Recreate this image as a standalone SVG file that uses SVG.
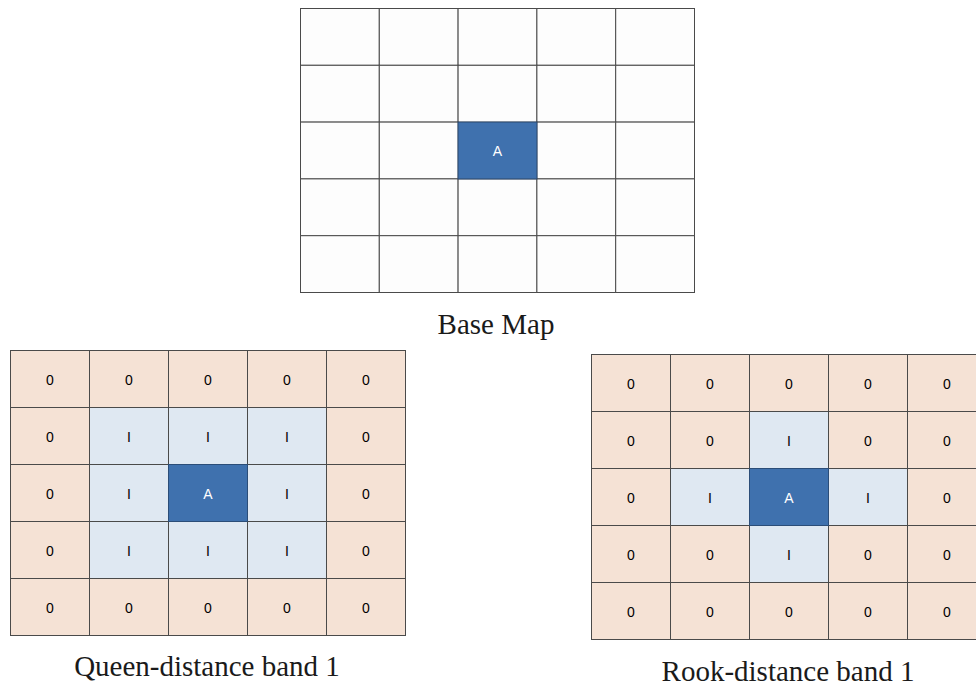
<svg xmlns="http://www.w3.org/2000/svg" width="976" height="688" viewBox="0 0 976 688">
<style>
.w{fill:#fdfdfd;stroke:#4a4a4a;stroke-width:1}
.p{fill:#f5e2d5;stroke:#4a4a4a;stroke-width:1}
.b{fill:#dfe8f2;stroke:#4a4a4a;stroke-width:1}
.d{fill:#3f71ae;stroke:#2b4d78;stroke-width:1}
.t text{font-family:"Liberation Sans",Arial,sans-serif;font-size:14px;fill:#000000;text-anchor:middle}
.ta{font-family:"Liberation Sans",Arial,sans-serif;font-size:14px;fill:#ffffff;text-anchor:middle}
.cap{font-family:"Liberation Serif","Times New Roman",serif;font-size:29px;fill:#1a1a1a;text-anchor:middle}
</style>
<rect width="976" height="688" fill="#ffffff"/>

<g id="base-map" transform="translate(300.5,8.5)">
<rect class="w" x="0" y="0" width="78.8" height="56.8"/><rect class="w" x="78.8" y="0" width="78.8" height="56.8"/><rect class="w" x="157.6" y="0" width="78.8" height="56.8"/><rect class="w" x="236.4" y="0" width="78.8" height="56.8"/><rect class="w" x="315.2" y="0" width="78.8" height="56.8"/>
<rect class="w" x="0" y="56.8" width="78.8" height="56.8"/><rect class="w" x="78.8" y="56.8" width="78.8" height="56.8"/><rect class="w" x="157.6" y="56.8" width="78.8" height="56.8"/><rect class="w" x="236.4" y="56.8" width="78.8" height="56.8"/><rect class="w" x="315.2" y="56.8" width="78.8" height="56.8"/>
<rect class="w" x="0" y="113.6" width="78.8" height="56.8"/><rect class="w" x="78.8" y="113.6" width="78.8" height="56.8"/><rect class="w" x="236.4" y="113.6" width="78.8" height="56.8"/><rect class="w" x="315.2" y="113.6" width="78.8" height="56.8"/>
<rect class="w" x="0" y="170.4" width="78.8" height="56.8"/><rect class="w" x="78.8" y="170.4" width="78.8" height="56.8"/><rect class="w" x="157.6" y="170.4" width="78.8" height="56.8"/><rect class="w" x="236.4" y="170.4" width="78.8" height="56.8"/><rect class="w" x="315.2" y="170.4" width="78.8" height="56.8"/>
<rect class="w" x="0" y="227.2" width="78.8" height="56.8"/><rect class="w" x="78.8" y="227.2" width="78.8" height="56.8"/><rect class="w" x="157.6" y="227.2" width="78.8" height="56.8"/><rect class="w" x="236.4" y="227.2" width="78.8" height="56.8"/><rect class="w" x="315.2" y="227.2" width="78.8" height="56.8"/>
<rect class="d" x="157.6" y="113.6" width="78.8" height="56.8"/>
<text class="ta" x="197" y="147.5">A</text>
</g>
<text class="cap" x="496" y="334">Base Map</text>

<g id="queen" transform="translate(10.5,350.5)">
<g class="p">
<rect x="0" y="0" width="79" height="57"/><rect x="79" y="0" width="79" height="57"/><rect x="158" y="0" width="79" height="57"/><rect x="237" y="0" width="79" height="57"/><rect x="316" y="0" width="79" height="57"/>
<rect x="0" y="57" width="79" height="57"/><rect x="316" y="57" width="79" height="57"/>
<rect x="0" y="114" width="79" height="57"/><rect x="316" y="114" width="79" height="57"/>
<rect x="0" y="171" width="79" height="57"/><rect x="316" y="171" width="79" height="57"/>
<rect x="0" y="228" width="79" height="57"/><rect x="79" y="228" width="79" height="57"/><rect x="158" y="228" width="79" height="57"/><rect x="237" y="228" width="79" height="57"/><rect x="316" y="228" width="79" height="57"/>
</g>
<g class="b">
<rect x="79" y="57" width="79" height="57"/><rect x="158" y="57" width="79" height="57"/><rect x="237" y="57" width="79" height="57"/>
<rect x="79" y="114" width="79" height="57"/><rect x="237" y="114" width="79" height="57"/>
<rect x="79" y="171" width="79" height="57"/><rect x="158" y="171" width="79" height="57"/><rect x="237" y="171" width="79" height="57"/>
</g>
<rect class="d" x="158" y="114" width="79" height="57"/>
<g class="t">
<text x="39.5" y="34">0</text><text x="118.5" y="34">0</text><text x="197.5" y="34">0</text><text x="276.5" y="34">0</text><text x="355.5" y="34">0</text>
<text x="39.5" y="91">0</text><text x="118.5" y="91">I</text><text x="197.5" y="91">I</text><text x="276.5" y="91">I</text><text x="355.5" y="91">0</text>
<text x="39.5" y="148">0</text><text x="118.5" y="148">I</text><text x="276.5" y="148">I</text><text x="355.5" y="148">0</text>
<text x="39.5" y="205">0</text><text x="118.5" y="205">I</text><text x="197.5" y="205">I</text><text x="276.5" y="205">I</text><text x="355.5" y="205">0</text>
<text x="39.5" y="262">0</text><text x="118.5" y="262">0</text><text x="197.5" y="262">0</text><text x="276.5" y="262">0</text><text x="355.5" y="262">0</text>
</g>
<text class="ta" x="197.5" y="148">A</text>
</g>
<text class="cap" x="207" y="676">Queen-distance band 1</text>

<g id="rook" transform="translate(591.5,354.5)">
<g class="p">
<rect x="0" y="0" width="79" height="57"/><rect x="79" y="0" width="79" height="57"/><rect x="158" y="0" width="79" height="57"/><rect x="237" y="0" width="79" height="57"/><rect x="316" y="0" width="79" height="57"/>
<rect x="0" y="57" width="79" height="57"/><rect x="79" y="57" width="79" height="57"/><rect x="237" y="57" width="79" height="57"/><rect x="316" y="57" width="79" height="57"/>
<rect x="0" y="114" width="79" height="57"/><rect x="316" y="114" width="79" height="57"/>
<rect x="0" y="171" width="79" height="57"/><rect x="79" y="171" width="79" height="57"/><rect x="237" y="171" width="79" height="57"/><rect x="316" y="171" width="79" height="57"/>
<rect x="0" y="228" width="79" height="57"/><rect x="79" y="228" width="79" height="57"/><rect x="158" y="228" width="79" height="57"/><rect x="237" y="228" width="79" height="57"/><rect x="316" y="228" width="79" height="57"/>
</g>
<g class="b">
<rect x="158" y="57" width="79" height="57"/>
<rect x="79" y="114" width="79" height="57"/><rect x="237" y="114" width="79" height="57"/>
<rect x="158" y="171" width="79" height="57"/>
</g>
<rect class="d" x="158" y="114" width="79" height="57"/>
<g class="t">
<text x="39.5" y="34">0</text><text x="118.5" y="34">0</text><text x="197.5" y="34">0</text><text x="276.5" y="34">0</text><text x="355.5" y="34">0</text>
<text x="39.5" y="91">0</text><text x="118.5" y="91">0</text><text x="197.5" y="91">I</text><text x="276.5" y="91">0</text><text x="355.5" y="91">0</text>
<text x="39.5" y="148">0</text><text x="118.5" y="148">I</text><text x="276.5" y="148">I</text><text x="355.5" y="148">0</text>
<text x="39.5" y="205">0</text><text x="118.5" y="205">0</text><text x="197.5" y="205">I</text><text x="276.5" y="205">0</text><text x="355.5" y="205">0</text>
<text x="39.5" y="262">0</text><text x="118.5" y="262">0</text><text x="197.5" y="262">0</text><text x="276.5" y="262">0</text><text x="355.5" y="262">0</text>
</g>
<text class="ta" x="197.5" y="148">A</text>
</g>
<text class="cap" x="788" y="681">Rook-distance band 1</text>
</svg>
